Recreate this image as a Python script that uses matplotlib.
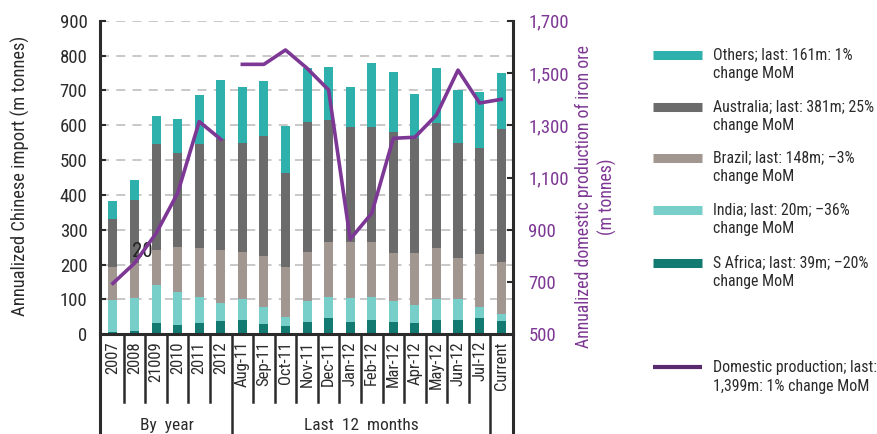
import matplotlib
matplotlib.use("Agg")
import matplotlib.pyplot as plt
import matplotlib.transforms as mtransforms
from matplotlib.lines import Line2D
from matplotlib.ticker import FuncFormatter
import numpy as np

plt.rcParams['font.family'] = ['Roboto Condensed', 'DejaVu Sans Condensed',
                               'Open Sans Condensed', 'Roboto', 'DejaVu Sans']

# ---- data -------------------------------------------------------------
categories = ['2007', '2008', '21009', '2010', '2011', '2012',
              'Aug-11', 'Sep-11', 'Oct-11', 'Nov-11', 'Dec-11', 'Jan-12',
              'Feb-12', 'Mar-12', 'Apr-12', 'May-12', 'Jun-12', 'Jul-12',
              'Current']

# annualized imports by origin (m tonnes)
s_africa = [7, 10, 32, 27, 32, 38, 41, 30, 25, 36, 46, 36, 41, 36, 32, 41, 41, 48, 39]
india = [91, 93, 109, 95, 76, 51, 59, 47, 25, 60, 62, 67, 67, 60, 53, 59, 59, 31, 20]
brazil = [96, 101, 101, 129, 139, 153, 137, 148, 144, 139, 158, 162, 158, 136, 147, 147, 118, 152, 148]
australia = [137, 181, 304, 268, 299, 318, 311, 344, 268, 375, 349, 331, 330, 349, 330, 358, 330, 305, 381]
others = [51, 57, 81, 99, 140, 170, 161, 157, 137, 154, 153, 114, 184, 172, 129, 160, 153, 160, 161]

# annualized domestic production of iron ore (m tonnes)
domestic = [695, 772, 886, 1040, 1314, 1246,
            1533, 1533, 1588, 1518, 1435, 864, 963, 1250, 1254, 1339, 1511, 1385, 1399]

n_years = 6  # first six categories are calendar years

series_names = [
    'Others; last: 161m: 1%\nchange MoM',
    'Australia; last: 381m; 25%\nchange MoM',
    'Brazil; last: 148m; \u20133%\nchange MoM',
    'India; last: 20m; \u201336%\nchange MoM',
    'S Africa; last: 39m; \u201320%\nchange MoM',
]
line_name = 'Domestic production; last:\n1,399m: 1% change MoM'

# ---- styling ----------------------------------------------------------
C_OTHERS = '#2eb0ad'
C_AUS = '#6b6b6b'
C_BRAZIL = '#a19690'
C_INDIA = '#78cfca'
C_SAF = '#127a70'
C_LINE = '#7d3794'
C_DARK = '#2b2b2b'

TICK_FS = 13.5
XTICK_FS = 12
GROUP_FS = 12.5
LAB_FS = 13.3
LEG_FS = 11.4

fig = plt.figure(figsize=(8.78, 4.34), dpi=100)
W, H = 878.0, 434.0
ax = fig.add_axes([100 / W, 1 - 334.3 / H, 413 / W, 313.6 / H])

x = np.arange(len(categories))
stack = [(s_africa, C_SAF), (india, C_INDIA), (brazil, C_BRAZIL),
         (australia, C_AUS), (others, C_OTHERS)]
bottom = np.zeros(len(categories))
for vals, col in stack:
    v = np.array(vals, dtype=float)
    ax.bar(x, v, width=0.42, bottom=bottom, color=col, linewidth=0, zorder=2)
    bottom += v

ax.set_xlim(-0.6, 18.55)
ax.set_ylim(0, 900)
ax.set_yticks(np.arange(0, 901, 100))
ax.yaxis.grid(True, linestyle=(0, (5, 4)), color='#c4c4c4', linewidth=1.3)
ax.set_axisbelow(True)
for s in ('top', 'right'):
    ax.spines[s].set_visible(False)
for s in ('left', 'bottom'):
    ax.spines[s].set_linewidth(2.2)
    ax.spines[s].set_color(C_DARK)
ax.tick_params(axis='y', direction='in', length=4, width=1.5, pad=9,
               labelsize=TICK_FS, colors=C_DARK)
ax.set_xticks(x)
ax.set_xticklabels(categories, rotation=90, fontsize=XTICK_FS, va='top')
ax.tick_params(axis='x', length=0, pad=5, colors=C_DARK)

# stray value label
ax.text(1.36, 239, '20', fontsize=15, ha='center', va='center', color='#222222', zorder=5)

# category separators below the axis
trans = mtransforms.blended_transform_factory(ax.transData, ax.transAxes)
long_bounds = {5.5, 17.5}
for b in np.arange(0.5, len(categories) - 0.5, 1.0):
    y_end = -0.318 if b in long_bounds else -0.216
    ax.plot([b, b], [0, y_end], transform=trans, clip_on=False,
            color=C_DARK, lw=1.8, zorder=1)
for xa in (0.0, 1.0):
    ax.plot([xa, xa], [0, -0.318], transform=ax.transAxes, clip_on=False,
            color=C_DARK, lw=2.2)

ax.text((n_years - 1) / 2, -0.292, 'By  year', transform=trans,
        ha='center', va='center', fontsize=GROUP_FS, color=C_DARK)
ax.text((n_years + len(categories) - 2) / 2, -0.292, 'Last  12  months', transform=trans,
        ha='center', va='center', fontsize=GROUP_FS, color=C_DARK)

# ---- secondary axis: domestic production -------------------------------
ax2 = ax.twinx()
ax2.set_ylim(500, 1700)
ax2.set_yticks(np.arange(500, 1701, 200))
ax2.yaxis.set_major_formatter(FuncFormatter(lambda v, p: f'{int(v):,}'))
for s in ('top', 'left', 'bottom'):
    ax2.spines[s].set_visible(False)
ax2.spines['right'].set_linewidth(2.2)
ax2.spines['right'].set_color(C_DARK)
ax2.tick_params(axis='y', direction='in', length=4, width=1.5, pad=11,
                labelsize=TICK_FS, labelcolor=C_LINE, color=C_DARK)
ax2.plot(x[:n_years], domestic[:n_years], color=C_LINE, lw=2.6, zorder=4)
ax2.plot(x[n_years:], domestic[n_years:], color=C_LINE, lw=2.6, zorder=4)

# axis titles
fig.text(20 / W, 1 - 176 / H, 'Annualized Chinese import (m tonnes)',
         rotation=90, ha='center', va='center', fontsize=LAB_FS, color=C_DARK)
fig.text(596 / W, 1 - 197 / H, 'Annualized domestic production of iron ore\n(m tonnes)',
         rotation=90, ha='center', va='center', fontsize=12.8, color=C_LINE,
         multialignment='center', linespacing=1.35)

# ---- legend -------------------------------------------------------------
legend_rows = [
    (series_names[0], C_OTHERS, 55),
    (series_names[1], C_AUS, 107),
    (series_names[2], C_BRAZIL, 158),
    (series_names[3], C_INDIA, 210),
    (series_names[4], C_SAF, 263),
]
for label, col, yp in legend_rows:
    fig.add_artist(Line2D([653 / W, 702 / W], [1 - yp / H] * 2, color=col,
                          lw=6.5, solid_capstyle='butt', transform=fig.transFigure))
    fig.text(713 / W, 1 - (yp - 8) / H, label, ha='left', va='top',
             fontsize=LEG_FS, color=C_DARK, linespacing=1.3)

fig.add_artist(Line2D([653 / W, 702 / W], [1 - 367 / H] * 2, color='#5a2a6e',
                      lw=3, solid_capstyle='butt', transform=fig.transFigure))
fig.text(713 / W, 1 - 360 / H, line_name, ha='left', va='top',
         fontsize=LEG_FS, color=C_DARK, linespacing=1.3)

fig.savefig('out.png', dpi=100)
